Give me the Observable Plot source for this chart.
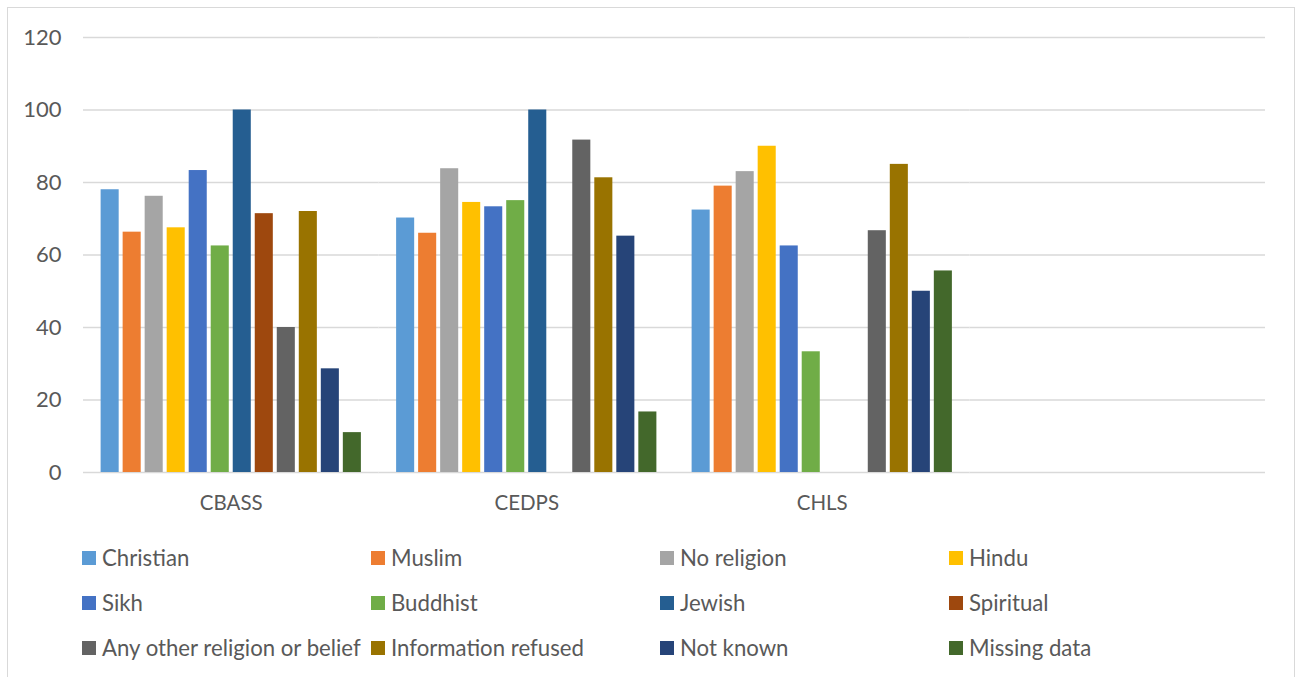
<!DOCTYPE html>
<html>
<head>
<meta charset="utf-8">
<script src="https://cdn.jsdelivr.net/npm/d3@7"></script>
<script src="https://cdn.jsdelivr.net/npm/@observablehq/plot@0.6"></script>
<style>
  html, body { margin: 0; padding: 0; background: #fff; overflow: hidden; }
  body { width: 1301px; height: 677px; position: relative; font-family: Lato, sans-serif; }
  #frame {
    position: absolute; left: 7px; top: 7px; width: 1288px; height: 700px;
    box-sizing: border-box; border: 1.5px solid #d9d9d9;
  }
  #chart { position: absolute; left: 0; top: 0; }
  #legend {
    position: absolute; left: 82px; top: 535px;
    display: grid; grid-template-columns: repeat(4, 289px); grid-auto-rows: 45px;
  }
  .item { display: flex; align-items: center; font-size: 22.2px; color: #595959; white-space: nowrap; }
  .swatch { width: 14px; height: 14px; margin-right: 6px; flex: none; }
</style>
</head>
<body>
<div id="frame"></div>
<div id="chart"></div>
<div id="legend"></div>
<script>
// Survey groups (the last slot is an empty category)
const groups = ["CBASS", "CEDPS", "CHLS", ""];

// Religion / belief categories and their series colours
const religions = [
  "Christian", "Muslim", "No religion", "Hindu",
  "Sikh", "Buddhist", "Jewish", "Spiritual",
  "Any other religion or belief", "Information refused", "Not known", "Missing data"
];
const colors = [
  "#5B9BD5", "#ED7D31", "#A5A5A5", "#FFC000",
  "#4472C4", "#70AD47", "#255E91", "#9E480E",
  "#636363", "#997300", "#264478", "#43682B"
];

// Percentages per group, in the order of `religions` (null = no value)
const cbass = [78, 66.3, 76.2, 67.5, 83.3, 62.5, 100, 71.4, 40, 72, 28.6, 11];
const cedps = [70.2, 66, 83.8, 74.5, 73.3, 75, 100, null, 91.7, 81.3, 65.2, 16.7];
const chls  = [72.4, 79, 83, 90, 62.5, 33.3, null, null, 66.7, 85, 50, 55.6];

const yTicks = [0, 20, 40, 60, 80, 100, 120];

const rows = [];
[cbass, cedps, chls].forEach((vals, g) =>
  vals.forEach((v, i) => rows.push({group: groups[g], religion: religions[i], value: v}))
);

const chart = Plot.plot({
  width: 1301,
  height: 530,
  marginLeft: 83,
  marginRight: 36,
  marginTop: 37,
  marginBottom: 58,
  style: {fontFamily: "Lato, sans-serif", fontSize: "20.5px", color: "#595959", background: "transparent"},
  fx: {domain: groups, padding: 0, round: false, label: null, axis: "bottom", tickSize: 0, tickPadding: 23},
  x: {domain: religions, paddingInner: 0.18, paddingOuter: 0.8, round: false, axis: null},
  y: {domain: [0, 120], ticks: yTicks, tickSize: 0, tickPadding: 22, label: null},
  color: {domain: religions, range: colors},
  marks: [
    // horizontal gridlines, one set per group so the empty group gets them too
    Plot.ruleY(d3.cross(groups, yTicks), {fx: d => d[0], y: d => d[1], stroke: "#d9d9d9", strokeWidth: 1.5}),
    Plot.barY(rows, {fx: "group", x: "religion", y: "value", fill: "religion"})
  ]
});
// slightly larger numerals on the value axis
d3.select(chart).selectAll('[aria-label="y-axis tick label"]').attr("font-size", 22);
document.getElementById("chart").appendChild(chart);

// Legend: four columns, three rows
const legend = d3.select("#legend");
religions.forEach((r, i) => {
  const item = legend.append("div").attr("class", "item");
  item.append("div").attr("class", "swatch").style("background", colors[i]);
  item.append("span").text(r);
});
</script>
</body>
</html>
